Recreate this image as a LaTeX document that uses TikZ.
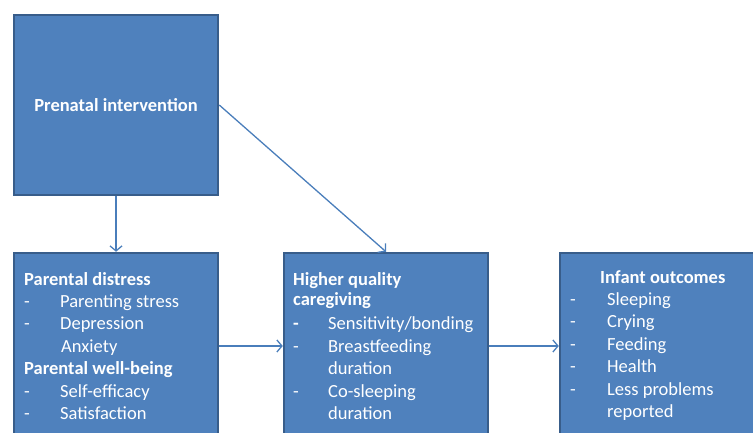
\documentclass[tikz,border=0pt]{standalone}
\usepackage{fontspec}
\setmainfont{Carlito}
\usetikzlibrary{arrows.meta, positioning}
\definecolor{boxblue}{HTML}{4F81BD}
\definecolor{boxline}{HTML}{385D8A}
\definecolor{linkblue}{HTML}{4A7EBB}
\newcommand{\dashitem}[2][36pt]{\makebox[#1][l]{-}#2}
\newcommand{\contitem}[2][36pt]{\hspace{#1}#2}

\begin{document}
\begin{tikzpicture}[x=1pt, y=-1pt,
  stage/.style={rectangle, draw=boxline, fill=boxblue, line width=2.5pt, minimum width=204pt, inner sep=0pt, text=white},
  stagetext/.style={anchor=north west, align=left, text=white, inner sep=0pt, font=\fontsize{18.5}{22.4}\selectfont},
  link/.style={draw=linkblue, line width=1.3pt, -{Straight Barb[length=5pt, width=12pt]}}
]
  \useasboundingbox (0,0) rectangle (753,433);
  \clip (0,0) rectangle (753,433);

  \node[stage, minimum height=180pt, font=\bfseries\fontsize{18.5}{22}\selectfont] (prenatal) at (116,105) {Prenatal intervention};
  \node[stage, minimum height=186pt] (parental) at (116,346) {};
  \node[stage, minimum height=186pt] (caregiving) at (386,346) {};
  \node[stage, minimum height=186pt] (infant) at (662,346) {};

  % box texts, top of first line about 13pt above its baseline
  \node[stagetext] (parental-text) at (24,272) {
    \textbf{Parental distress}\\
    \dashitem{Parenting stress}\\
    \dashitem{Depression}\\
    \contitem[37pt]{Anxiety}\\
    \textbf{Parental well-being}\\
    \dashitem{Self-efficacy}\\
    \dashitem{Satisfaction}
  };

  \node[stagetext] (caregiving-text) at (293,272) {
    \textbf{Higher quality}\\[-2pt]
    \textbf{caregiving}\\[2pt]
    \makebox[35pt][l]{\textbf{-}}Sensitivity/bonding\\
    \dashitem[35pt]{Breastfeeding}\\
    \contitem[35pt]{duration}\\
    \dashitem[35pt]{Co-sleeping}\\
    \contitem[35pt]{duration}
  };

  \node[stagetext] (infant-text) at (570,270) {
    \contitem[30pt]{\textbf{Infant outcomes}}\\
    \dashitem[37pt]{Sleeping}\\
    \dashitem[37pt]{Crying}\\
    \dashitem[37pt]{Feeding}\\
    \dashitem[37pt]{Health}\\
    \dashitem[37pt]{Less problems}\\
    \contitem[37pt]{reported}
  };

  \draw[link] (prenatal) -- (parental);
  \draw[link] (prenatal.east) -- (caregiving.north);
  \draw[link] (parental) -- (caregiving);
  \draw[link] (caregiving) -- (infant);
\end{tikzpicture}
\end{document}
